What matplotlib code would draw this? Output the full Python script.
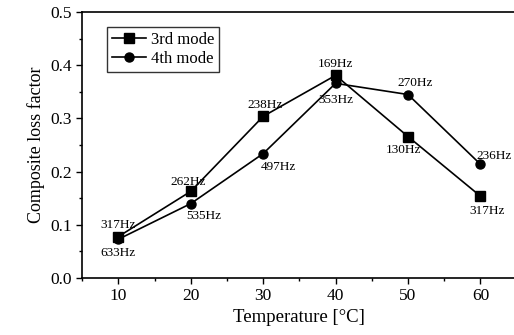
import matplotlib.pyplot as plt
from matplotlib.ticker import MultipleLocator

plt.rcParams.update({
    'font.family': 'Liberation Serif',
    'font.size': 12.5,
    'axes.linewidth': 1.2,
})

temperature = [10, 20, 30, 40, 50, 60]
loss_3rd = [0.078, 0.163, 0.304, 0.381, 0.266, 0.154]
loss_4th = [0.073, 0.140, 0.234, 0.366, 0.345, 0.214]
freq_3rd = ['317Hz', '262Hz', '238Hz', '169Hz', '130Hz', '317Hz']
freq_4th = ['633Hz', '535Hz', '497Hz', '353Hz', '270Hz', '236Hz']

# label offsets in points (dx, dy)
off_3rd = [(0, 8), (-2, 7), (1, 8), (0, 8), (-3, -10), (5, -11)]
off_4th = [(0, -10), (9, -9), (11, -10), (0, -12), (5, 8), (10, 6)]

fig = plt.figure(figsize=(5.14, 3.35), dpi=100)
ax = fig.add_axes([0.16, 0.17, 0.845, 0.794])

ax.plot(temperature, loss_3rd, 'k-s', lw=1.2, ms=6.5, label='3rd mode')
ax.plot(temperature, loss_4th, 'k-o', lw=1.2, ms=6.5, label='4th mode')

for x, y, t, o in zip(temperature, loss_3rd, freq_3rd, off_3rd):
    ax.annotate(t, (x, y), xytext=o, textcoords='offset points',
                ha='center', va='center', fontsize=9.5)
for x, y, t, o in zip(temperature, loss_4th, freq_4th, off_4th):
    ax.annotate(t, (x, y), xytext=o, textcoords='offset points',
                ha='center', va='center', fontsize=9.5)

ax.set_xlim(5, 65)
ax.set_ylim(0, 0.5)
ax.xaxis.set_major_locator(MultipleLocator(10))
ax.xaxis.set_minor_locator(MultipleLocator(5))
ax.yaxis.set_major_locator(MultipleLocator(0.1))
ax.yaxis.set_minor_locator(MultipleLocator(0.05))
ax.tick_params(which='major', direction='out', length=4, width=1)
ax.tick_params(which='minor', direction='out', length=2.5, width=1)
ax.spines['right'].set_visible(False)
ax.yaxis.set_major_formatter(plt.FuncFormatter(lambda v, p: f'{v:.1f}'))

ax.set_xlabel('Temperature [°C]', fontsize=13.5, labelpad=3)
ax.set_ylabel('Composite loss factor', fontsize=13)

leg = ax.legend(loc='upper left', bbox_to_anchor=(0.058, 0.944), fontsize=12,
                frameon=True, fancybox=False, edgecolor='black',
                handlelength=2.0, borderpad=0.3, labelspacing=0.2,
                handletextpad=0.3, borderaxespad=0)
leg.get_frame().set_linewidth(1.0)

fig.savefig('out.png', dpi=100)
